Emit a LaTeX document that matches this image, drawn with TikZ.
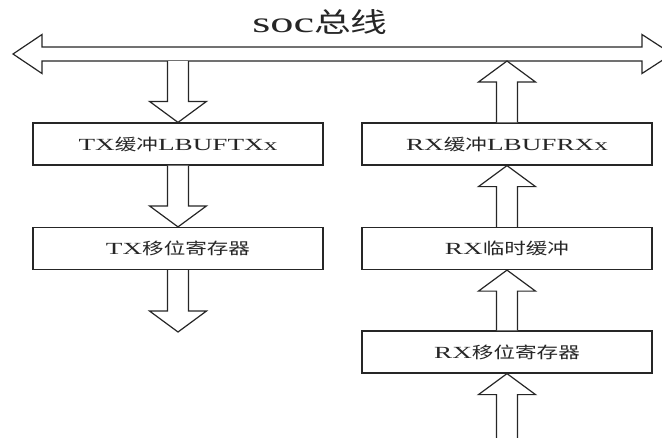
\documentclass[tikz,border=0pt]{standalone}
\usepackage{fontspec}
\setmainfont{Liberation Serif}[FakeStretch=1.6]
\newfontfamily\cjk{Noto Sans CJK SC}[Scale=0.94,FakeStretch=1.35]
\usetikzlibrary{calc}

\newcommand{\zh}[1]{{\cjk #1}}

% block arrow: #1 tail, #2 tip
\newcommand{\fatarrow}[2]{%
  \coordinate (fa-b) at ($(#2)!21pt!(#1)$);
  \filldraw[fatline] ($(#1)!10.5pt!90:(#2)$) -- ($(fa-b)!10.5pt!90:(#2)$)
    -- ($(fa-b)!28.5pt!90:(#2)$) -- (#2) -- ($(fa-b)!28.5pt!-90:(#2)$)
    -- ($(fa-b)!10.5pt!-90:(#2)$) -- ($(#1)!10.5pt!-90:(#2)$);
}

\begin{document}
\begin{tikzpicture}[x=1pt,y=-1pt,
  box/.style={draw=black!85, line width=1.2pt, fill=white, minimum width=290pt,
    minimum height=42pt, inner sep=0pt, text=black!85,
    font=\fontsize{17}{20}\selectfont},
  fatline/.style={draw=black!85, fill=white, line width=1.2pt, line join=miter}]
  \clip (0,0) rectangle (662,437);

  % Bus

  \node[text=black!85, font=\fontsize{29}{32}\selectfont] (title) at (320,22) {soc\zh{总线}};
  \coordinate (busW) at (13,54);
  \coordinate (busE) at (672,54);
  \coordinate (busS) at (322,61);
  \filldraw[fatline] (busW) -- ++(29,-19.5) -- ++(0,12.5) -- ($(busE)+(-30,-7)$)
    -- ++(0,-12.5) -- (busE) -- ++(-30,19.5) -- ++(0,-12.5) -- ($(busW)+(29,7)$)
    -- ++(0,12.5) -- cycle;

  % TX side

  \node[box] (txbuf) at (178,144) {TX\zh{缓冲}LBUFTXx};
  \node[box] (txshift) at (178,248.5) {TX\zh{移位寄存器}};
  \coordinate (txtop) at (txbuf.north |- busS);
  \coordinate (txout) at (178,332);

  \fatarrow{txtop}{txbuf.north}
  \fatarrow{txbuf.south}{txshift.north}
  \fatarrow{txshift.south}{txout}

  % RX side

  \node[box] (rxbuf) at (507,144) {RX\zh{缓冲}LBUFRXx};
  \node[box] (rxtmp) at (507,248.5) {RX\zh{临时缓冲}};
  \node[box] (rxshift) at (507,352) {RX\zh{移位寄存器}};
  \coordinate (rxtop) at (rxbuf.north |- busS);
  \coordinate (rxin) at (507,445);

  \fatarrow{rxbuf.north}{rxtop}
  \fatarrow{rxtmp.north}{rxbuf.south}
  \fatarrow{rxshift.north}{rxtmp.south}
  \fatarrow{rxin}{rxshift.south}
\end{tikzpicture}
\end{document}
